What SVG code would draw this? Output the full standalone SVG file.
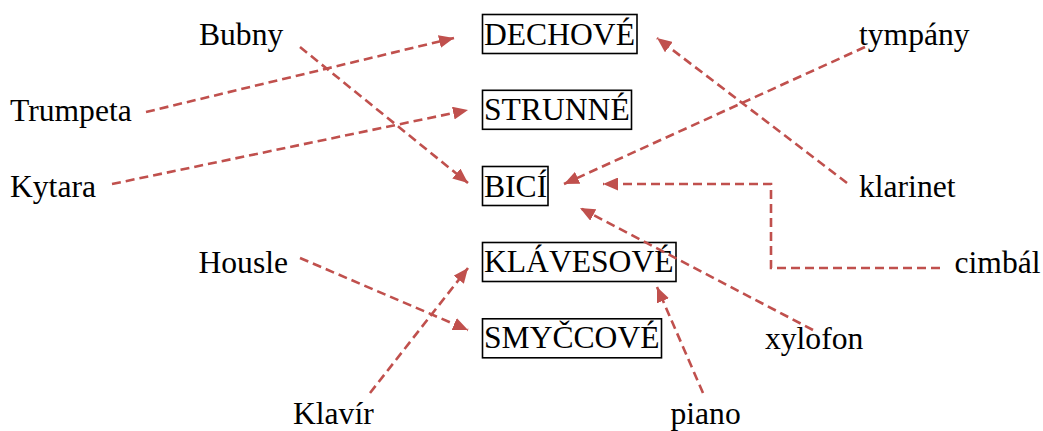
<svg xmlns="http://www.w3.org/2000/svg" width="1043" height="431" viewBox="0 0 1043 431" font-family="'Liberation Serif', 'DejaVu Serif', serif" font-size="31.6">
<style>
.box{fill:none;stroke:#000;stroke-width:1.6}
.c{fill:none;stroke:#c0504d;stroke-width:2.6;stroke-dasharray:9,5;marker-end:url(#ah)}
</style>
<defs>
<marker id="ah" markerUnits="userSpaceOnUse" markerWidth="15" markerHeight="13" refX="15" refY="6.5" orient="auto">
<path d="M0,0 L15,6.5 L0,13 z" fill="#c0504d"/>
</marker>
</defs>
<rect width="1043" height="431" fill="#fff"/>
<g id="DECHOVE"><rect class="box" x="482.5" y="14.5" width="154.5" height="39"/><text x="484" y="44.5">DECHOVÉ</text></g>
<g id="STRUNNE"><rect class="box" x="482.5" y="90.3" width="149" height="39"/><text x="484" y="120.3">STRUNNÉ</text></g>
<g id="BICI"><rect class="box" x="482.5" y="166.5" width="65.5" height="39"/><text x="484" y="196.5">BICÍ</text></g>
<g id="KLAVESOVE"><rect class="box" x="482.5" y="242.5" width="193.5" height="39"/><text x="484" y="272">KLÁVESOVÉ</text></g>
<g id="SMYCCOVE"><rect class="box" x="482.5" y="318.8" width="179" height="39"/><text x="484" y="348">SMYČCOVÉ</text></g>
<g id="Bubny"><text x="199" y="45">Bubny</text></g>
<g id="Trumpeta"><text x="10" y="121">Trumpeta</text></g>
<g id="Kytara"><text x="10" y="196.5">Kytara</text></g>
<g id="Housle"><text x="198.5" y="272.5">Housle</text></g>
<g id="Klavir"><text x="293" y="424">Klavír</text></g>
<g id="tympany"><text x="859" y="45">tympány</text></g>
<g id="klarinet"><text x="859" y="196.5">klarinet</text></g>
<g id="cimbal"><text x="954.5" y="272.5">cimbál</text></g>
<g id="xylofon"><text x="765" y="348.5">xylofon</text></g>
<g id="piano"><text x="670.5" y="424">piano</text></g>
<g id="connectors">
<path class="c" d="M146,112 L454,38"/>
<path class="c" d="M112,184 L468,110"/>
<path class="c" d="M300,47 L468,183"/>
<path class="c" d="M865,47 L564,184"/>
<path class="c" d="M847,183 L657,38"/>
<path class="c" d="M940,268 L771,268 L771,184 L603,184"/>
<path class="c" d="M813,330 L580,208"/>
<path class="c" d="M300,258 L468,330"/>
<path class="c" d="M370,393 L468,268"/>
<path class="c" d="M703,393 L657,287"/>
</g>
</svg>
